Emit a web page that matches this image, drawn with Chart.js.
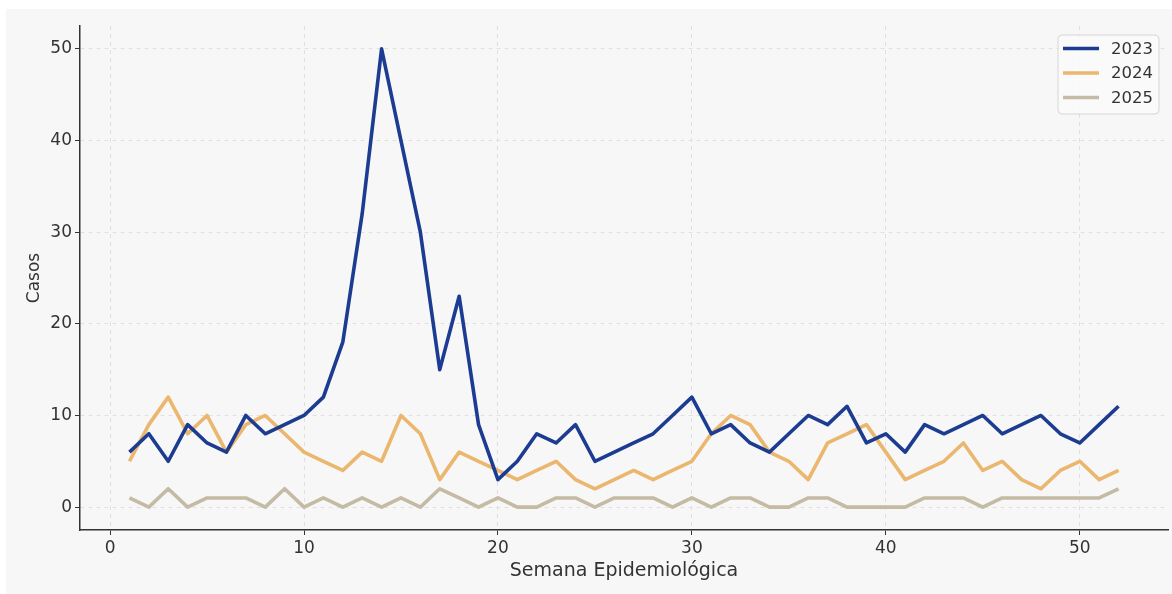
<!DOCTYPE html>
<html lang="es">
<head>
  <meta charset="UTF-8">
  <title>Casos por Semana Epidemiológica</title>
  <style>
    html, body { margin: 0; padding: 0; background: #ffffff; }
    #wrap { width: 1172px; height: 594px; }
  </style>
</head>
<body>
<div id="wrap">
  <canvas id="chart" width="1172" height="594"></canvas>
</div>

<script src="https://cdn.jsdelivr.net/npm/chart.js"></script>

<script>
  const weeks = [1, 2, 3, 4, 5, 6, 7, 8, 9, 10, 11, 12, 13, 14, 15, 16, 17, 18, 19, 20, 21, 22, 23, 24, 25, 26,
    27, 28, 29, 30, 31, 32, 33, 34, 35, 36, 37, 38, 39, 40, 41, 42, 43, 44, 45, 46, 47, 48, 49, 50, 51, 52];

  const casos2023 = [6, 8, 5, 9, 7, 6, 10, 8, 9, 10, 12, 18, 32, 50, 40, 30, 15, 23, 9, 3, 5, 8, 7, 9, 5, 6,
    7, 8, 10, 12, 8, 9, 7, 6, 8, 10, 9, 11, 7, 8, 6, 9, 8, 9, 10, 8, 9, 10, 8, 7, 9, 11];
  const casos2024 = [5, 9, 12, 8, 10, 6, 9, 10, 8, 6, 5, 4, 6, 5, 10, 8, 3, 6, 5, 4, 3, 4, 5, 3, 2, 3,
    4, 3, 4, 5, 8, 10, 9, 6, 5, 3, 7, 8, 9, 6, 3, 4, 5, 7, 4, 5, 3, 2, 4, 5, 3, 4];
  const casos2025 = [1, 0, 2, 0, 1, 1, 1, 0, 2, 0, 1, 0, 1, 0, 1, 0, 2, 1, 0, 1, 0, 0, 1, 1, 0, 1,
    1, 1, 0, 1, 0, 1, 1, 0, 0, 1, 1, 0, 0, 0, 0, 1, 1, 1, 0, 1, 1, 1, 1, 1, 1, 2];

  const seriesLabels = ['2023', '2024', '2025'];
  const xTicks = [0, 10, 20, 30, 40, 50];
  const yTicks = [0, 10, 20, 30, 40, 50];

  const colors = ['#1b3c91', '#ebb66e', '#c4bba4'];
  const family = 'DejaVu Sans';
  const tickFont = { family, size: 17 };

  const toPoints = (values) => values.map((v, i) => ({ x: weeks[i], y: v }));

  const datasets = [casos2023, casos2024, casos2025].map((values, i) => ({
    label: seriesLabels[i],
    data: toPoints(values),
    borderColor: colors[i],
    backgroundColor: colors[i],
    borderWidth: 3.6,
    pointRadius: 0,
    tension: 0,
    borderJoinStyle: 'round',
    fill: false
  }));

  // gray figure background, with the thin white edge top/left
  const background = {
    id: 'background',
    beforeDraw(chart) {
      const { ctx, width, height } = chart;
      ctx.save();
      ctx.fillStyle = '#f7f7f7';
      ctx.fillRect(6, 9, width - 6, height - 9);
      ctx.restore();
    }
  };

  // matplotlib-style legend box in the upper right corner
  const boxLegend = {
    id: 'boxLegend',
    afterDraw(chart) {
      const { ctx, chartArea } = chart;
      const w = 101, h = 79;
      const x = chartArea.right - 9 - w;
      const y = chartArea.top + 9;
      ctx.save();
      ctx.beginPath();
      ctx.roundRect(x, y, w, h, 4);
      ctx.fillStyle = 'rgba(250,250,250,0.85)';
      ctx.fill();
      ctx.strokeStyle = '#d6d6d6';
      ctx.lineWidth = 1;
      ctx.stroke();
      ctx.font = `16.5px ${family}`;
      ctx.textBaseline = 'middle';
      chart.data.datasets.forEach((ds, i) => {
        const rowY = y + 13.5 + i * 24.5;
        ctx.beginPath();
        ctx.moveTo(x + 5, rowY);
        ctx.lineTo(x + 41, rowY);
        ctx.strokeStyle = ds.borderColor;
        ctx.lineWidth = 3.6;
        ctx.stroke();
        ctx.fillStyle = '#333333';
        ctx.fillText(ds.label, x + 53, rowY + 1);
      });
      ctx.restore();
    }
  };

  new Chart(document.getElementById('chart'), {
    type: 'line',
    data: { datasets },
    plugins: [background, boxLegend],
    options: {
      responsive: false,
      animation: false,
      layout: { padding: { top: 26, right: 4, left: 0, bottom: 0 } },
      plugins: {
        legend: { display: false },
        tooltip: { enabled: false }
      },
      scales: {
        x: {
          type: 'linear',
          min: -1.55,
          max: 54.55,
          afterBuildTicks: (scale) => { scale.ticks = xTicks.map(v => ({ value: v })); },
          afterFit: (scale) => { scale.height = 64; },
          ticks: { color: '#333333', font: tickFont, padding: 3, maxRotation: 0 },
          grid: {
            color: '#e0e0e0',
            tickColor: '#333333',
            tickLength: 5,
            tickBorderDash: []
          },
          border: { display: true, color: '#333333', width: 1.5, dash: [4, 4] },
          title: {
            display: true,
            text: 'Semana Epidemiológica',
            color: '#333333',
            font: { family, size: 19 },
            padding: { top: 0, bottom: 11.5 }
          }
        },
        y: {
          min: -2.5,
          max: 52.5,
          afterBuildTicks: (scale) => { scale.ticks = yTicks.map(v => ({ value: v })); },
          afterFit: (scale) => { scale.width = 80; },
          ticks: { color: '#333333', font: tickFont, padding: 3 },
          grid: {
            color: '#e0e0e0',
            tickColor: '#333333',
            tickLength: 5,
            tickBorderDash: []
          },
          border: { display: true, color: '#333333', width: 1.5, dash: [4, 4] },
          title: {
            display: true,
            text: 'Casos',
            color: '#333333',
            font: { family, size: 17 },
            padding: { top: 24, bottom: 0 }
          }
        }
      }
    }
  });
</script>
</body>
</html>
